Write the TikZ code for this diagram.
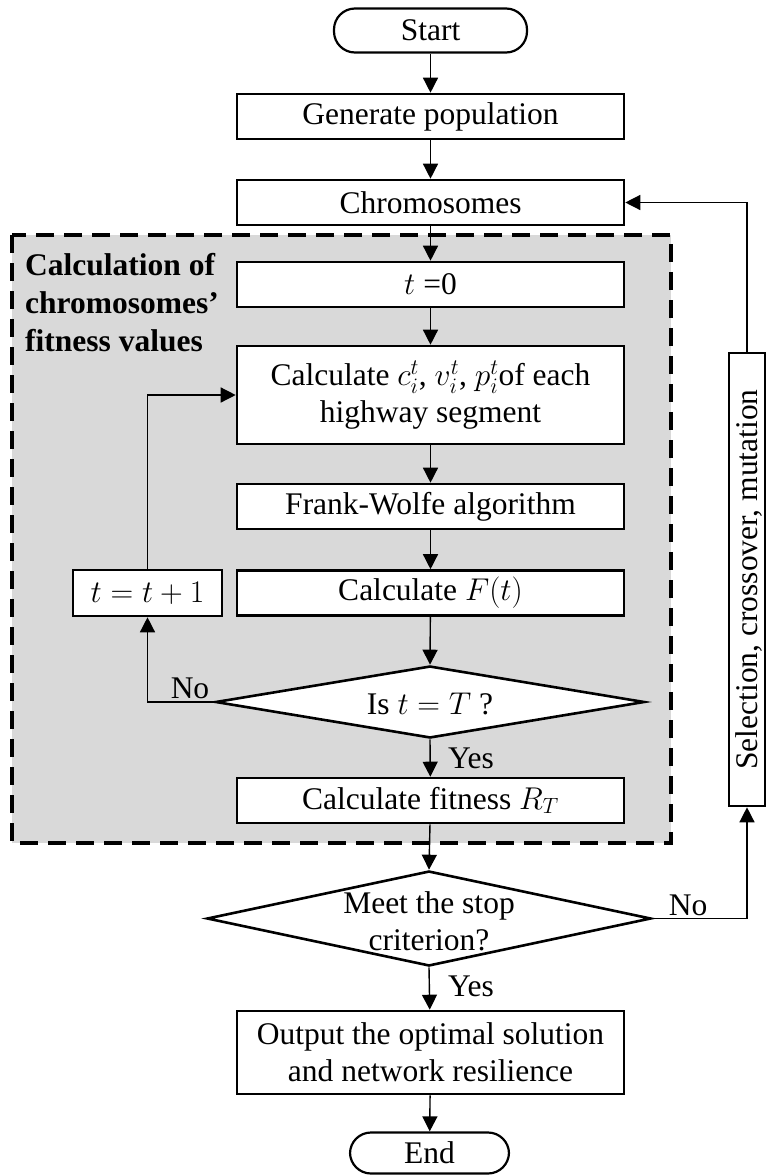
\RequirePackage{fix-cm}
\documentclass[tikz,border=0pt]{standalone}
\usepackage{fontspec}
\setmainfont{Liberation Serif}
\usetikzlibrary{arrows.meta,shapes.geometric}
\definecolor{panelgray}{HTML}{D9D9D9}
\begin{document}
\begin{tikzpicture}[x=1pt,y=-1pt,
  font=\fontsize{31.5}{37}\selectfont,
  box/.style={draw,line width=2.6pt,fill=white,inner sep=0pt,
    minimum width=387pt,minimum height=45pt,align=center},
  term/.style={draw,line width=2.2pt,fill=white,inner sep=0pt,rounded corners=21pt,
    minimum height=44pt},
  decision/.style={draw,shape=diamond,line width=2.6pt,fill=white,inner sep=0pt},
  arr/.style={line width=1.4pt,-{Triangle[length=15pt,width=15pt]}},
  lbl/.style={inner sep=0pt}]
\useasboundingbox (0,0) rectangle (766,1176);

% shaded frame around the fitness evaluation loop
\draw[fill=panelgray,line width=4pt,dash pattern=on 18pt off 10pt] (12,235) rectangle (671,843);
\node[lbl,anchor=north west,align=left,font=\fontsize{31.5}{38}\selectfont\bfseries] (title) at (25,253)
  {Calculation of\\chromosomes’\\fitness values};

% main column
\node[term,minimum width=193pt] (start) at (430.5,30.5) {Start};
\node[box] (gen) at (430.5,116.5) {Generate population};
\node[box] (chrom) at (430.5,202.5) {Chromosomes};
\node[box] (tzero) at (430.5,284.5) {$t$ =0};
\node[box,minimum height=98pt,font=\fontsize{31.5}{37}\selectfont] (calc) at (430.5,395)
  {Calculate $c_i^t$, $v_i^t$, $p_i^t$of each\\highway segment};
\node[box] (fw) at (430.5,506.5) {Frank-Wolfe algorithm};
\node[box] (ft) at (430.5,593) {Calculate $F(t)$};
\node[box,minimum width=149pt,minimum height=46pt] (tinc) at (147.5,593) {$t=t+1$};
\node[decision,minimum width=429pt,minimum height=72pt] (isT) at (430,702) {};
\node[lbl] (isTtext) at (430,704) {Is $t=T$ ?};
\node[box] (fit) at (430.5,800.5) {Calculate fitness $R_T$};
\node[decision,minimum width=444pt,minimum height=95pt] (stop) at (429,918.5) {};
\node[lbl,align=center] (stoptext) at (429,921) {Meet the stop\\criterion?};
\node[box,minimum height=83pt] (out) at (430.5,1052.5) {Output the optimal solution\\and network resilience};
\node[term,minimum width=159pt,minimum height=41pt] (endn) at (429.5,1153) {End};

% genetic operators
\node[draw,line width=2.6pt,fill=white,inner sep=0pt,minimum width=36pt,minimum height=453pt] (sel) at (747,579.5) {};
\node[lbl,rotate=90] (seltext) at (749,579.5) {Selection, crossover, mutation};

% connectors
\draw[arr] (start) -- (gen);
\draw[arr] (gen) -- (chrom);
\draw[arr] (chrom) -- (tzero);
\draw[arr] (tzero) -- (calc);
\draw[arr] (calc) -- (fw);
\draw[arr] (fw) -- (ft);
\draw[arr] (ft) -- (isT.north);
\draw[arr] (isT.south) -- (fit);
\draw[arr] (fit) -- (stop.north);
\draw[arr] (stop.south) -- (out);
\draw[arr] (out) -- (endn);
\draw[arr] (isT.west) -| (tinc.south);
\draw[arr] (tinc.north) |- (calc.west);
\draw[arr] (stop.east) -| (sel.south);
\draw[arr] (sel.north) |- (chrom.east);

% branch labels
\node[lbl] (noA) at (190,688) {No};
\node[lbl] (yesA) at (471,758) {Yes};
\node[lbl] (noB) at (688,905) {No};
\node[lbl] (yesB) at (471,986) {Yes};
\end{tikzpicture}
\end{document}
